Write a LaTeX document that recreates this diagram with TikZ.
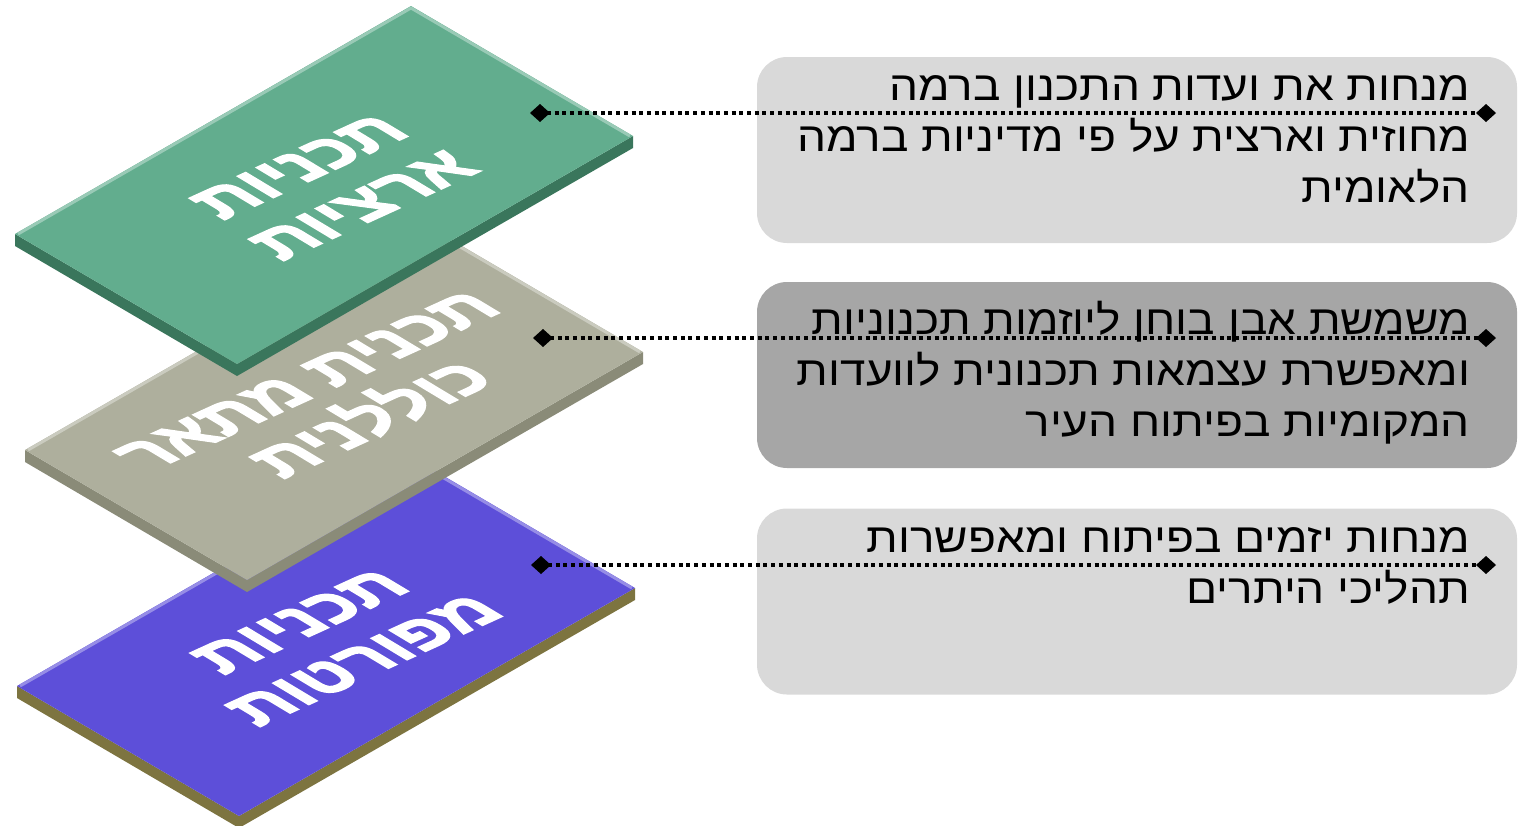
\documentclass[tikz,border=0pt]{standalone}
\usepackage{fontspec}
\newfontfamily\hebfont[Script=Hebrew, FakeStretch=1.12]{Liberation Sans}
\newfontfamily\platefont[Script=Hebrew, FakeBold=2.5]{Liberation Sans Bold}
\TeXXeTstate=1
\usetikzlibrary{arrows.meta,positioning}

\definecolor{plangreen}{RGB}{98,173,142}
\definecolor{plangreenside}{RGB}{58,118,92}
\definecolor{plangray}{RGB}{174,175,157}
\definecolor{plangrayside}{RGB}{138,139,120}
\definecolor{planblue}{RGB}{93,79,217}
\definecolor{planblueside}{RGB}{125,116,64}
\definecolor{boxlight}{RGB}{217,217,217}
\definecolor{boxdark}{RGB}{166,166,166}

\begin{document}
\begin{tikzpicture}[
        x=0.5pt, y=-0.5pt,
        infobox/.style={rounded corners=15pt, minimum width=380pt,
            minimum height=93pt, inner sep=0pt},
        boxtext/.style={align=right, inner sep=0pt,
            font=\hebfont\fontsize{20.5}{25.5}\selectfont},
        platetext/.style={align=center, text=white, transform shape,
            inner sep=0pt, font=\platefont\fontsize{34.5}{37.5}\selectfont},
        link/.style={line width=2.1pt, dash pattern=on 2pt off 1.85pt,
            {Diamond[length=10pt,width=9pt]}-{Diamond[length=10pt,width=9pt]}}
    ]

    \useasboundingbox (0,0) rectangle (1518,825);

    % plates, lowest first
    \foreach \ox/\oy/\top/\side in {2/452/planblue/planblueside,
            10/216/plangray/plangrayside, 0/0/plangreen/plangreenside} {
        \fill[\side] ({15+\ox},{234+\oy}) -- ++(222,130) -- ++(396,-228)
            -- ++(0,12) -- ++(-396,228) -- ++(-222,-130) -- cycle;
        \fill[\top] ({15+\ox},{234+\oy}) -- ++(222,130) -- ++(396,-228)
            -- ++(-222,-130) -- cycle;
        \draw[\top!65!white, line width=1.5pt] ({18+\ox},{234+\oy})
            -- ++(393,-226) -- ++(219,128);
    }

    \begin{scope}[shift={(332,186)}, cm={0.91,0.415,-0.857,0.515,(0,0)}]
        \node[platetext] (national) {\beginR תכניות\endR\\\beginR ארציות\endR};
    \end{scope}
    \begin{scope}[shift={(341,401)}, cm={0.91,0.415,-0.857,0.515,(0,0)}]
        \node[platetext] (master) {\beginR תכנית מתאר\endR\\\beginR כוללנית\endR};
    \end{scope}
    \begin{scope}[shift={(333,641)}, cm={0.91,0.415,-0.857,0.515,(0,0)}]
        \node[platetext] (detailed) {\beginR תכניות\endR\\\beginR מפורטות\endR};
    \end{scope}

    % description boxes
    \node[infobox, fill=boxlight] (d1) at (1137,150) {};
    \node[infobox, fill=boxdark] (d2) at (1137,375) {};
    \node[infobox, fill=boxlight] (d3) at (1137,601.5) {};

    \node[boxtext, below left=9.5pt and 23.5pt of d1.north east] (t1)
        {\beginR מנחות את ועדות התכנון ברמה\endR\\
         \beginR מחוזית וארצית על פי מדיניות ברמה\endR\\
         \beginR הלאומית\endR};
    \node[boxtext, below left=9.5pt and 23.5pt of d2.north east] (t2)
        {\beginR משמשת אבן בוחן ליוזמות תכנוניות\endR\\
         \beginR ומאפשרת עצמאות תכנונית לוועדות\endR\\
         \beginR המקומיות בפיתוח העיר\endR};
    \node[boxtext, below left=9.5pt and 23.5pt of d3.north east] (t3)
        {\beginR מנחות יזמים בפיתוח ומאפשרות\endR\\
         \beginR תהליכי היתרים\endR};

    % dotted links
    \coordinate (n1) at (530,113);
    \coordinate (n2) at (533,338);
    \coordinate (n3) at (531,565);
    \coordinate (e1) at (1496,113);
    \coordinate (e2) at (1496,338);
    \coordinate (e3) at (1496,565);
    \draw[link] (n1) -- (e1);
    \draw[link] (n2) -- (e2);
    \draw[link] (n3) -- (e3);

\end{tikzpicture}
\end{document}
